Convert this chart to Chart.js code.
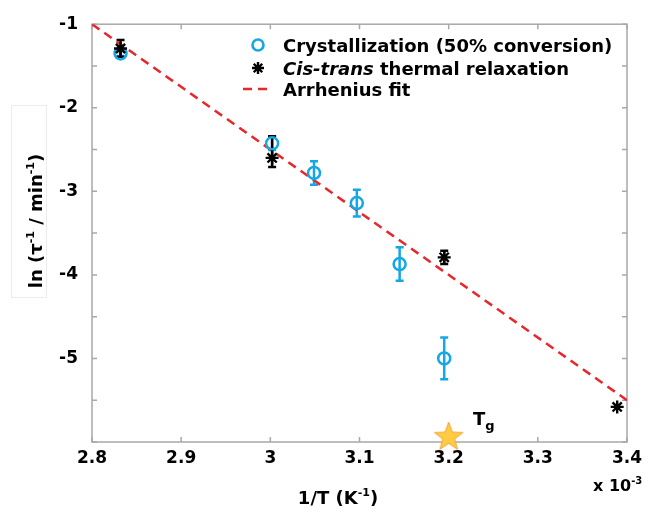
<!DOCTYPE html>
<html>
<head>
<meta charset="utf-8">
<script src="https://cdn.jsdelivr.net/npm/chart.js@4/dist/chart.umd.min.js"></script>
<style>
html,body{margin:0;padding:0;background:#fff;}
#wrap{width:649px;height:512px;position:relative;}
</style>
</head>
<body>
<div id="wrap"><canvas id="c" width="649" height="512"></canvas></div>
<script>
// ---- data ----
const crystX = [2.832, 3.002, 3.049, 3.097, 3.145, 3.195];
const crystY = [-1.35, -2.425, -2.78, -3.14, -3.87, -5.00];
const crystErr = [0.03, 0.08, 0.14, 0.16, 0.20, 0.25];

const cisX = [2.832, 3.002, 3.195, 3.389];
const cisY = [-1.29, -2.60, -3.79, -5.58];
const cisErrUp = [0.10, 0.26, 0.08, 0];
const cisErrDown = [0.10, 0.11, 0.08, 0];

const fitX = [2.8, 3.4];
const fitY = [-1.0, -5.5];

const tgX = [3.2];
const tgY = [-5.93];

const xTickValues = [2.8, 2.9, 3.0, 3.1, 3.2, 3.3, 3.4];
const yTickValues = [-6, -5.5, -5, -4.5, -4, -3.5, -3, -2.5, -2, -1.5, -1];
const yLabelValues = [-6, -5, -4, -3, -2, -1];

const legendLabels = [
  [{t:'Crystallization (50% conversion)'}],
  [{t:'Cis-trans', it:true}, {t:' thermal relaxation'}],
  [{t:'Arrhenius fit'}]
];
const yTitle = [{t:'ln (\u03c4'}, {t:'-1', sup:true}, {t:' / min'}, {t:'-1', sup:true}, {t:')'}];
const xTitle = [{t:'1/T (K'}, {t:'-1', sup:true}, {t:')'}];
const xMult = [{t:'x 10'}, {t:'-3', sup:true}];
const tgLabel = [{t:'T'}, {t:'g', sub:true}];

const BLUE = '#14A7E6';
const RED = '#E8262C';
const AX = '#a8a8a8';
const FONT = '"DejaVu Sans", sans-serif';

// star image for Tg marker
const starImg = document.createElement('canvas');
starImg.width = 32; starImg.height = 32;
(function(){
  const g = starImg.getContext('2d');
  g.beginPath();
  for (let i = 0; i < 10; i++) {
    const r = i % 2 === 0 ? 15 : 6.2;
    const a = -Math.PI/2 + i*Math.PI/5;
    const px = 16 + r*Math.cos(a), py = 17 + r*Math.sin(a);
    if (i === 0) g.moveTo(px, py); else g.lineTo(px, py);
  }
  g.closePath();
  g.fillStyle = '#FFCB45';
  g.fill();
  g.strokeStyle = '#EFA62A';
  g.lineWidth = 1;
  g.stroke();
})();

function drawRich(ctx, parts, x, y, size, align) {
  const fontFor = p => `${p.it ? 'italic ' : ''}bold ${p.sup ? Math.round(size*0.62) : (p.sub ? Math.round(size*0.72) : size)}px ${FONT}`;
  let w = 0;
  parts.forEach(p => { ctx.font = fontFor(p); w += ctx.measureText(p.t).width; });
  let cx = align === 'center' ? x - w/2 : (align === 'right' ? x - w : x);
  ctx.textBaseline = 'alphabetic';
  ctx.textAlign = 'left';
  parts.forEach(p => {
    ctx.font = fontFor(p);
    let dy = 0;
    if (p.sup) dy = -size*0.45;
    if (p.sub) dy = size*0.3;
    ctx.fillText(p.t, cx, y + dy);
    cx += ctx.measureText(p.t).width;
  });
}

const errorBars = {
  id: 'errorBars',
  beforeDatasetsDraw(chart) {
    const ctx = chart.ctx, xs = chart.scales.x, ys = chart.scales.y, a = chart.chartArea;
    ctx.save();
    // frame
    ctx.strokeStyle = AX; ctx.lineWidth = 1.5;
    ctx.strokeRect(a.left, a.top, a.right - a.left, a.bottom - a.top);
    const tl = 5;
    xTickValues.forEach(v => {
      const px = xs.getPixelForValue(v);
      ctx.beginPath();
      ctx.moveTo(px, a.bottom); ctx.lineTo(px, a.bottom - tl);
      ctx.moveTo(px, a.top); ctx.lineTo(px, a.top + tl);
      ctx.stroke();
    });
    yTickValues.forEach(v => {
      const py = ys.getPixelForValue(v);
      ctx.beginPath();
      ctx.moveTo(a.left, py); ctx.lineTo(a.left + tl, py);
      ctx.moveTo(a.right, py); ctx.lineTo(a.right - tl, py);
      ctx.stroke();
    });
    // error bars
    const bar = (x, y, up, dn, col) => {
      if (up === 0 && dn === 0) return;
      const px = xs.getPixelForValue(x);
      const p1 = ys.getPixelForValue(y + up), p2 = ys.getPixelForValue(y - dn);
      ctx.strokeStyle = col; ctx.lineWidth = 2.5;
      ctx.beginPath();
      ctx.moveTo(px, p1); ctx.lineTo(px, p2);
      ctx.moveTo(px - 4, p1); ctx.lineTo(px + 4, p1);
      ctx.moveTo(px - 4, p2); ctx.lineTo(px + 4, p2);
      ctx.stroke();
    };
    crystX.forEach((x, i) => bar(x, crystY[i], crystErr[i], crystErr[i], BLUE));
    cisX.forEach((x, i) => bar(x, cisY[i], cisErrUp[i], cisErrDown[i], '#000'));
    ctx.restore();
  },
  afterDraw(chart) {
    const ctx = chart.ctx;
    ctx.save();
    // legend
    const lx = 283, ly = [45, 68, 89];
    ctx.fillStyle = '#000';
    legendLabels.forEach((parts, i) => drawRich(ctx, parts, lx, ly[i] + 6.5, 18, 'left'));
    // legend markers
    ctx.strokeStyle = BLUE; ctx.lineWidth = 2.6;
    ctx.beginPath(); ctx.arc(258, ly[0], 5.5, 0, Math.PI*2); ctx.stroke();
    ctx.strokeStyle = '#000'; ctx.lineWidth = 2.4;
    ctx.beginPath();
    for (let k = 0; k < 4; k++) {
      const ang = k*Math.PI/4, r = 6;
      ctx.moveTo(258 - r*Math.cos(ang), ly[1] - r*Math.sin(ang));
      ctx.lineTo(258 + r*Math.cos(ang), ly[1] + r*Math.sin(ang));
    }
    ctx.stroke();
    ctx.strokeStyle = RED; ctx.lineWidth = 2.5; ctx.setLineDash([9, 6]);
    ctx.beginPath(); ctx.moveTo(243, ly[2]); ctx.lineTo(273, ly[2]); ctx.stroke();
    ctx.setLineDash([]);
    // y title with faint box
    ctx.strokeStyle = '#ececec'; ctx.lineWidth = 1;
    ctx.strokeRect(11.5, 105.5, 35, 192);
    ctx.save();
    ctx.translate(42, 221);
    ctx.rotate(-Math.PI/2);
    ctx.fillStyle = '#000';
    drawRich(ctx, yTitle, 0, 0, 18, 'center');
    ctx.restore();
    // x title
    ctx.fillStyle = '#000';
    drawRich(ctx, xTitle, 338, 504, 18, 'center');
    drawRich(ctx, xMult, 593, 491, 16, 'left');
    // Tg label
    drawRich(ctx, tgLabel, 473, 425, 18, 'left');
    ctx.restore();
  }
};

const pts = (xs, ys) => xs.map((x, i) => ({x, y: ys[i]}));

new Chart(document.getElementById('c'), {
  type: 'scatter',
  data: {
    datasets: [
      {
        label: 'Arrhenius fit',
        data: pts(fitX, fitY),
        showLine: true,
        borderColor: RED,
        borderWidth: 2.5,
        borderDash: [9, 6],
        pointRadius: 0,
        order: 3
      },
      {
        label: 'Crystallization (50% conversion)',
        data: pts(crystX, crystY),
        pointStyle: 'circle',
        pointRadius: 6,
        borderColor: BLUE,
        backgroundColor: 'rgba(0,0,0,0)',
        borderWidth: 2.5,
        order: 2
      },
      {
        label: 'Cis-trans thermal relaxation',
        data: pts(cisX, cisY),
        pointStyle: 'star',
        pointRadius: 6.5,
        borderColor: '#000',
        backgroundColor: '#000',
        borderWidth: 2.4,
        clip: false,
        order: 1
      },
      {
        label: 'Tg',
        data: pts(tgX, tgY),
        pointStyle: starImg,
        pointRadius: 15,
        clip: false,
        order: 0
      }
    ]
  },
  options: {
    responsive: false,
    animation: false,
    events: [],
    layout: { padding: { left: 0, right: 22, top: 22, bottom: 0 } },
    plugins: { legend: { display: false }, tooltip: { enabled: false } },
    scales: {
      x: {
        type: 'linear',
        min: 2.8, max: 3.4,
        afterFit: s => { s.height = 70; },
        afterBuildTicks: s => { s.ticks = xTickValues.map(v => ({value: v})); },
        grid: { display: false, drawTicks: false },
        border: { display: false },
        ticks: {
          padding: 6,
          color: '#000',
          font: { family: FONT, size: 17, weight: 'bold' },
          callback: v => String(parseFloat(Number(v).toFixed(2)))
        }
      },
      y: {
        type: 'linear',
        min: -6, max: -1,
        afterFit: s => { s.width = 92; },
        afterBuildTicks: s => { s.ticks = yLabelValues.map(v => ({value: v})); },
        grid: { display: false, drawTicks: false },
        border: { display: false },
        ticks: {
          padding: 14,
          color: '#000',
          font: { family: FONT, size: 17, weight: 'bold' },
          callback: v => (v === -6 ? '' : String(v))
        }
      }
    }
  },
  plugins: [errorBars]
});
</script>
</body>
</html>
